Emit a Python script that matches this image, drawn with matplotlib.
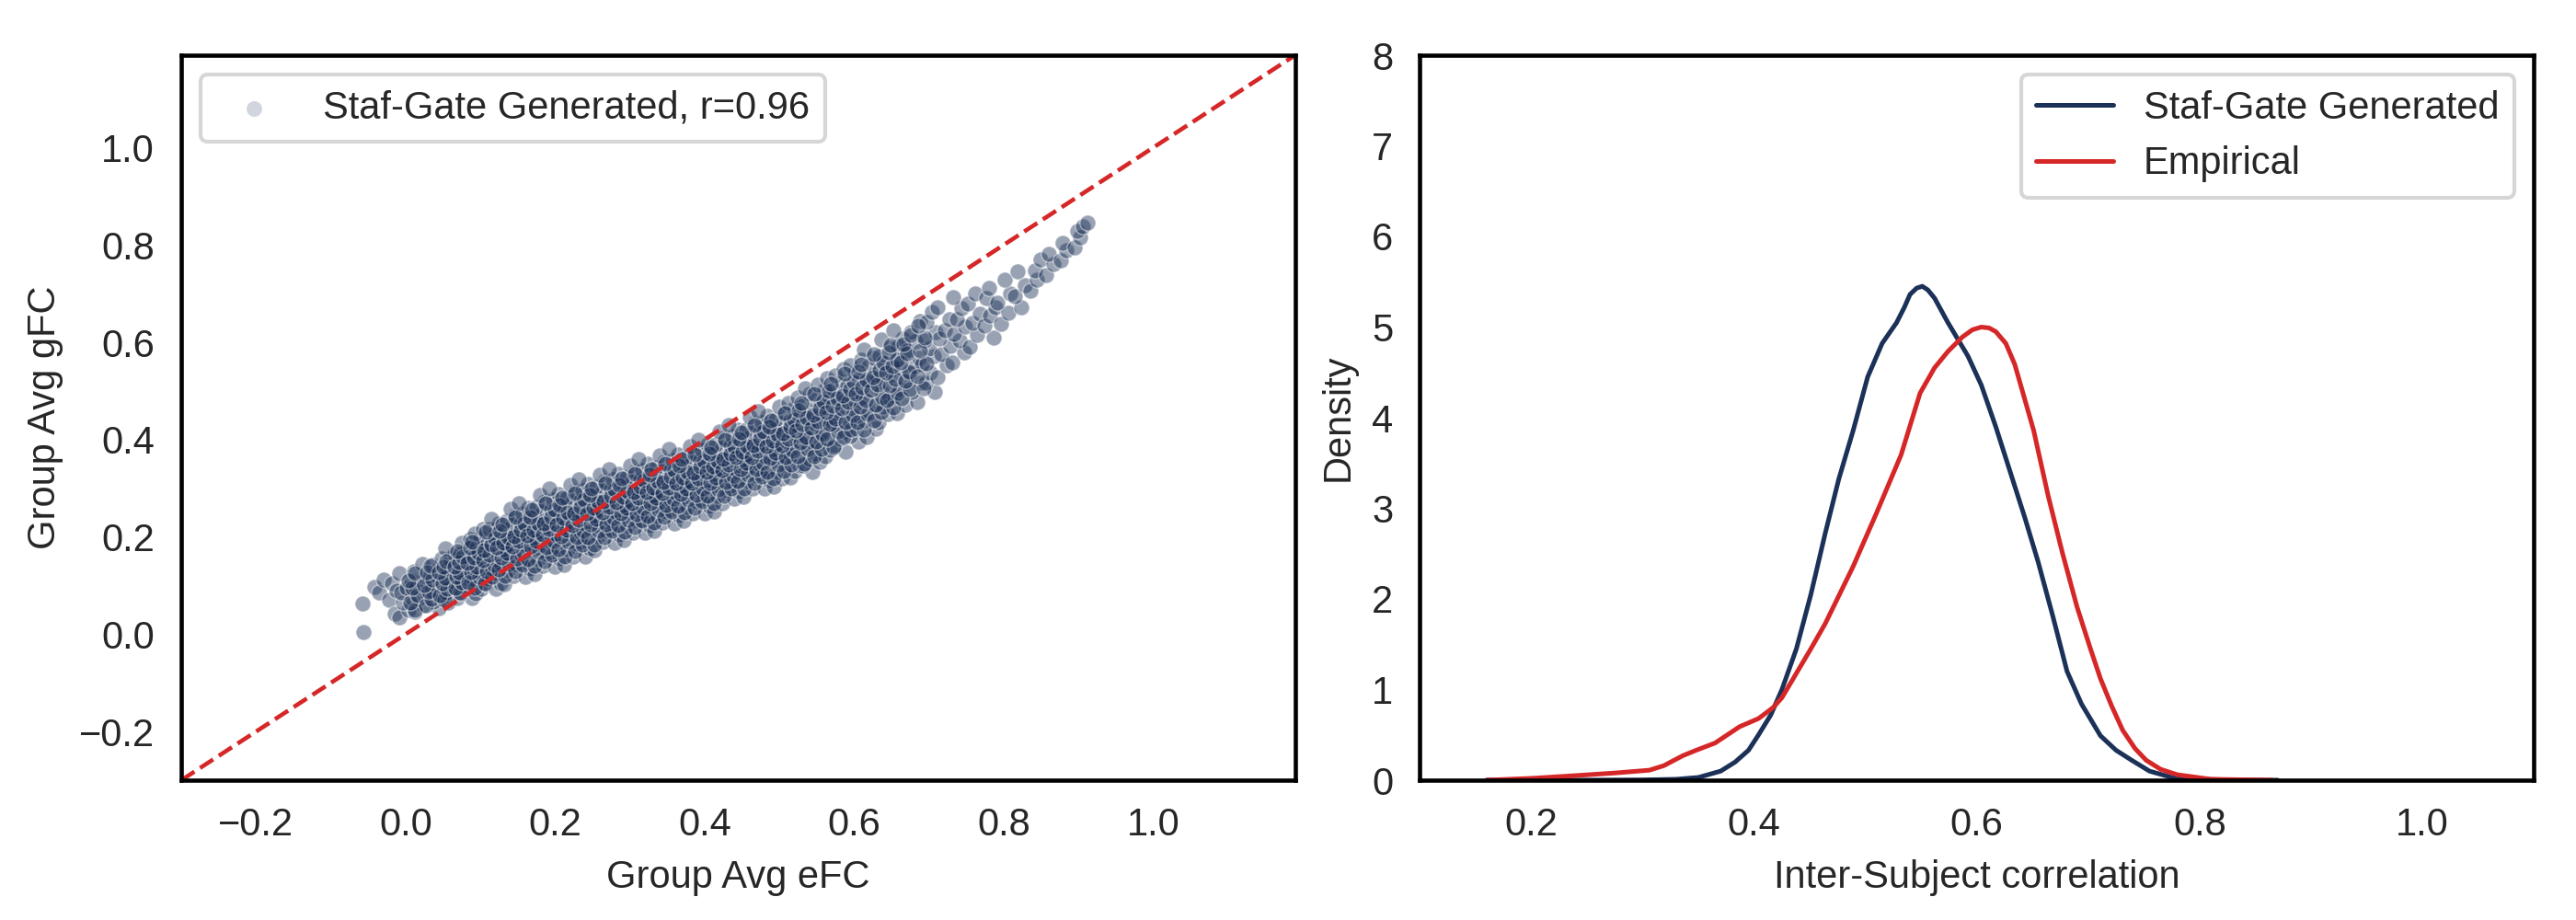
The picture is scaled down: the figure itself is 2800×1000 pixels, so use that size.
import numpy as np
import matplotlib
matplotlib.use("Agg")
import matplotlib.pyplot as plt
import seaborn as sns

# group-average eFC (x) vs generated gFC (y), read off the scatter cloud
efc = [
    -0.058, -0.056, -0.042, -0.035, -0.030, -0.022, -0.018, -0.012, -0.015,
    -0.008, 0.004, -0.003, 0.009, -0.006, 0.001, 0.007, -0.009,
    0.012, 0.024, 0.017, 0.029, 0.014, 0.021, 0.027, 0.011, 0.022,
    0.044, 0.037, 0.049, 0.034, 0.041, 0.047, 0.031, 0.042, 0.036, 0.048,
    0.057, 0.069, 0.054, 0.061, 0.067, 0.051, 0.062, 0.056, 0.068, 0.059, 0.065, 0.053,
    0.089, 0.074, 0.081, 0.087, 0.071, 0.082, 0.076, 0.088, 0.079, 0.085, 0.073, 0.083, 0.075, 0.086,
    0.094, 0.101, 0.107, 0.091, 0.102, 0.096, 0.108, 0.099, 0.105, 0.093, 0.103, 0.095, 0.106, 0.100, 0.092, 0.104,
    0.121, 0.127, 0.111, 0.122, 0.116, 0.128, 0.119, 0.125, 0.113, 0.123, 0.115, 0.126, 0.120, 0.112, 0.124, 0.114,
    0.132, 0.144, 0.137, 0.149, 0.134, 0.141, 0.147, 0.131, 0.142, 0.136, 0.148, 0.139, 0.145, 0.133, 0.143, 0.135, 0.146, 0.140,
    0.160, 0.166, 0.155, 0.163, 0.153, 0.165, 0.159, 0.168, 0.156, 0.162, 0.151, 0.167, 0.161, 0.154, 0.169, 0.157, 0.164, 0.152,
    0.172, 0.184, 0.177, 0.189, 0.174, 0.181, 0.187, 0.171, 0.182, 0.176, 0.188, 0.179, 0.185, 0.173, 0.183, 0.175, 0.186, 0.180,
    0.200, 0.206, 0.195, 0.203, 0.193, 0.205, 0.199, 0.208, 0.196, 0.202, 0.191, 0.207, 0.201, 0.194, 0.209, 0.197, 0.204, 0.192,
    0.212, 0.224, 0.217, 0.229, 0.214, 0.221, 0.227, 0.211, 0.222, 0.216, 0.228, 0.219, 0.225, 0.213, 0.223, 0.215, 0.226, 0.220,
    0.240, 0.246, 0.235, 0.243, 0.233, 0.245, 0.239, 0.248, 0.236, 0.242, 0.231, 0.247, 0.241, 0.234, 0.249, 0.237, 0.244, 0.232,
    0.252, 0.264, 0.257, 0.269, 0.254, 0.261, 0.267, 0.251, 0.262, 0.256, 0.268, 0.259, 0.265, 0.253, 0.263, 0.255, 0.266, 0.260,
    0.280, 0.286, 0.275, 0.283, 0.273, 0.285, 0.279, 0.288, 0.276, 0.282, 0.271, 0.287, 0.281, 0.274, 0.289, 0.277, 0.284, 0.272,
    0.292, 0.304, 0.297, 0.309, 0.294, 0.301, 0.307, 0.291, 0.302, 0.296, 0.308, 0.299, 0.305, 0.293, 0.303, 0.295, 0.306, 0.300,
    0.320, 0.326, 0.315, 0.323, 0.313, 0.325, 0.319, 0.328, 0.316, 0.322, 0.311, 0.327, 0.321, 0.314, 0.329, 0.317, 0.324, 0.312,
    0.332, 0.344, 0.337, 0.349, 0.334, 0.341, 0.347, 0.331, 0.342, 0.336, 0.348, 0.339, 0.345, 0.333, 0.343, 0.335, 0.346, 0.340,
    0.360, 0.366, 0.355, 0.363, 0.353, 0.365, 0.359, 0.368, 0.356, 0.362, 0.351, 0.367, 0.361, 0.354, 0.369, 0.357, 0.364, 0.352,
    0.372, 0.384, 0.377, 0.389, 0.374, 0.381, 0.387, 0.371, 0.382, 0.376, 0.388, 0.379, 0.385, 0.373, 0.383, 0.375, 0.386, 0.380,
    0.400, 0.406, 0.395, 0.403, 0.393, 0.405, 0.399, 0.408, 0.396, 0.402, 0.391, 0.407, 0.401, 0.394, 0.409, 0.397, 0.404, 0.392,
    0.412, 0.424, 0.417, 0.429, 0.414, 0.421, 0.427, 0.411, 0.422, 0.416, 0.428, 0.419, 0.425, 0.413, 0.423, 0.415, 0.426, 0.420,
    0.440, 0.446, 0.435, 0.443, 0.433, 0.445, 0.439, 0.448, 0.436, 0.442, 0.431, 0.447, 0.441, 0.434, 0.449, 0.437, 0.444, 0.432,
    0.452, 0.464, 0.457, 0.469, 0.454, 0.461, 0.467, 0.451, 0.462, 0.456, 0.468, 0.459, 0.465, 0.453, 0.463, 0.455, 0.466, 0.460,
    0.480, 0.486, 0.475, 0.483, 0.473, 0.485, 0.479, 0.488, 0.476, 0.482, 0.471, 0.487, 0.481, 0.474, 0.489, 0.477, 0.484, 0.472,
    0.492, 0.504, 0.497, 0.509, 0.494, 0.501, 0.507, 0.491, 0.502, 0.496, 0.508, 0.499, 0.505, 0.493, 0.503, 0.495, 0.506, 0.500,
    0.514, 0.521, 0.527, 0.511, 0.522, 0.516, 0.528, 0.519, 0.525, 0.513, 0.523, 0.515, 0.526, 0.520, 0.512, 0.524,
    0.544, 0.532, 0.540, 0.546, 0.535, 0.543, 0.533, 0.545, 0.539, 0.548, 0.536, 0.542, 0.531, 0.547, 0.541, 0.534,
    0.554, 0.561, 0.567, 0.551, 0.562, 0.556, 0.568, 0.559, 0.565, 0.553, 0.563, 0.555, 0.566, 0.560, 0.552, 0.564,
    0.589, 0.574, 0.581, 0.587, 0.571, 0.582, 0.576, 0.588, 0.579, 0.585, 0.573, 0.583, 0.575, 0.586,
    0.606, 0.595, 0.603, 0.593, 0.605, 0.599, 0.608, 0.596, 0.602, 0.591, 0.607, 0.601, 0.594, 0.609,
    0.617, 0.629, 0.614, 0.621, 0.627, 0.611, 0.622, 0.616, 0.628, 0.619, 0.625, 0.613,
    0.633, 0.645, 0.639, 0.648, 0.636, 0.642, 0.631, 0.647, 0.641, 0.634, 0.649, 0.637,
    0.657, 0.669, 0.654, 0.661, 0.667, 0.651, 0.662, 0.656, 0.668, 0.659, 0.665, 0.653,
    0.684, 0.677, 0.689, 0.674, 0.681, 0.687, 0.671, 0.682, 0.676, 0.688,
    0.708, 0.696, 0.702, 0.691, 0.707, 0.701, 0.694, 0.709, 0.697, 0.704,
    0.712, 0.724, 0.717, 0.729, 0.714, 0.721, 0.727, 0.711,
    0.731, 0.747, 0.741, 0.734, 0.749, 0.737, 0.744, 0.732,
    0.754, 0.765, 0.758, 0.768, 0.752, 0.762,
    0.786, 0.774, 0.782, 0.789, 0.777, 0.781,
    0.797, 0.806, 0.792, 0.809, 0.801,
    0.823, 0.815, 0.828, 0.819,
    0.836, 0.845, 0.842, 0.849,
    0.857, 0.866, 0.861,
    0.876, 0.884, 0.879,
    0.895, 0.902, 0.898, 0.906,
    0.912,
]
gfc = [
    0.063, 0.005, 0.098, 0.085, 0.112, 0.070, 0.105, 0.090, 0.042,
    0.035, 0.050, 0.065, 0.075, 0.085, 0.095, 0.110, 0.125,
    0.046, 0.060, 0.073, 0.084, 0.095, 0.106, 0.117, 0.130, 0.145,
    0.054, 0.067, 0.079, 0.090, 0.100, 0.109, 0.119, 0.130, 0.142, 0.156,
    0.064, 0.074, 0.085, 0.096, 0.106, 0.115, 0.125, 0.134, 0.144, 0.155, 0.166, 0.176,
    0.074, 0.083, 0.093, 0.104, 0.113, 0.122, 0.131, 0.139, 0.148, 0.157, 0.166, 0.177, 0.187, 0.196,
    0.083, 0.093, 0.102, 0.112, 0.122, 0.130, 0.139, 0.147, 0.154, 0.161, 0.170, 0.178, 0.188, 0.198, 0.207, 0.217,
    0.093, 0.104, 0.114, 0.125, 0.135, 0.144, 0.153, 0.162, 0.170, 0.177, 0.186, 0.195, 0.206, 0.216, 0.227, 0.237,
    0.103, 0.119, 0.132, 0.143, 0.153, 0.161, 0.169, 0.175, 0.180, 0.185, 0.191, 0.198, 0.206, 0.214, 0.223, 0.233, 0.244, 0.257,
    0.118, 0.134, 0.146, 0.157, 0.166, 0.174, 0.181, 0.187, 0.192, 0.198, 0.204, 0.211, 0.219, 0.228, 0.238, 0.248, 0.260, 0.270,
    0.123, 0.140, 0.154, 0.166, 0.176, 0.185, 0.193, 0.200, 0.205, 0.210, 0.217, 0.224, 0.232, 0.241, 0.251, 0.261, 0.273, 0.287,
    0.139, 0.156, 0.169, 0.180, 0.190, 0.198, 0.206, 0.212, 0.218, 0.224, 0.230, 0.238, 0.246, 0.255, 0.265, 0.276, 0.288, 0.299,
    0.143, 0.160, 0.174, 0.186, 0.196, 0.205, 0.213, 0.220, 0.225, 0.230, 0.237, 0.244, 0.252, 0.261, 0.271, 0.281, 0.293, 0.307,
    0.159, 0.176, 0.189, 0.200, 0.210, 0.218, 0.226, 0.232, 0.238, 0.244, 0.250, 0.258, 0.266, 0.275, 0.285, 0.296, 0.308, 0.319,
    0.173, 0.189, 0.202, 0.213, 0.223, 0.231, 0.239, 0.245, 0.250, 0.255, 0.261, 0.268, 0.276, 0.284, 0.293, 0.303, 0.314, 0.327,
    0.188, 0.204, 0.216, 0.227, 0.236, 0.244, 0.251, 0.257, 0.262, 0.268, 0.274, 0.281, 0.289, 0.298, 0.308, 0.318, 0.330, 0.340,
    0.193, 0.209, 0.222, 0.233, 0.243, 0.251, 0.259, 0.265, 0.270, 0.275, 0.281, 0.288, 0.296, 0.304, 0.313, 0.323, 0.334, 0.347,
    0.208, 0.224, 0.236, 0.247, 0.256, 0.264, 0.271, 0.277, 0.282, 0.288, 0.294, 0.301, 0.309, 0.318, 0.328, 0.338, 0.350, 0.360,
    0.213, 0.229, 0.242, 0.253, 0.263, 0.271, 0.279, 0.285, 0.290, 0.295, 0.301, 0.308, 0.316, 0.324, 0.333, 0.343, 0.354, 0.367,
    0.228, 0.244, 0.256, 0.267, 0.276, 0.284, 0.291, 0.297, 0.302, 0.308, 0.314, 0.321, 0.329, 0.338, 0.348, 0.358, 0.370, 0.380,
    0.233, 0.249, 0.262, 0.273, 0.283, 0.291, 0.299, 0.305, 0.310, 0.315, 0.321, 0.328, 0.336, 0.344, 0.353, 0.363, 0.374, 0.387,
    0.248, 0.264, 0.276, 0.287, 0.296, 0.304, 0.311, 0.317, 0.322, 0.328, 0.334, 0.341, 0.349, 0.358, 0.368, 0.378, 0.390, 0.400,
    0.253, 0.270, 0.284, 0.296, 0.306, 0.315, 0.323, 0.330, 0.335, 0.340, 0.347, 0.354, 0.362, 0.371, 0.381, 0.391, 0.403, 0.417,
    0.278, 0.294, 0.306, 0.317, 0.326, 0.334, 0.341, 0.347, 0.352, 0.358, 0.364, 0.371, 0.379, 0.388, 0.398, 0.408, 0.420, 0.430,
    0.283, 0.300, 0.314, 0.326, 0.336, 0.345, 0.353, 0.360, 0.365, 0.370, 0.377, 0.384, 0.392, 0.401, 0.411, 0.421, 0.433, 0.447,
    0.299, 0.316, 0.329, 0.340, 0.350, 0.358, 0.366, 0.372, 0.378, 0.384, 0.390, 0.398, 0.406, 0.415, 0.425, 0.436, 0.448, 0.459,
    0.303, 0.320, 0.334, 0.346, 0.356, 0.365, 0.373, 0.380, 0.385, 0.390, 0.397, 0.404, 0.412, 0.421, 0.431, 0.441, 0.453, 0.467,
    0.323, 0.335, 0.347, 0.359, 0.371, 0.381, 0.391, 0.402, 0.410, 0.419, 0.429, 0.439, 0.451, 0.463, 0.475, 0.487,
    0.334, 0.346, 0.359, 0.371, 0.384, 0.395, 0.406, 0.416, 0.425, 0.434, 0.445, 0.456, 0.469, 0.481, 0.494, 0.506,
    0.354, 0.366, 0.379, 0.391, 0.404, 0.415, 0.426, 0.436, 0.445, 0.454, 0.465, 0.476, 0.489, 0.501, 0.514, 0.526,
    0.375, 0.388, 0.402, 0.417, 0.429, 0.442, 0.455, 0.465, 0.478, 0.491, 0.503, 0.518, 0.532, 0.545,
    0.395, 0.408, 0.422, 0.437, 0.449, 0.462, 0.475, 0.485, 0.498, 0.511, 0.523, 0.538, 0.552, 0.565,
    0.406, 0.423, 0.440, 0.457, 0.472, 0.487, 0.503, 0.518, 0.533, 0.550, 0.567, 0.584,
    0.435, 0.452, 0.468, 0.484, 0.498, 0.513, 0.527, 0.542, 0.556, 0.572, 0.588, 0.605,
    0.455, 0.472, 0.488, 0.504, 0.518, 0.533, 0.547, 0.562, 0.576, 0.592, 0.608, 0.625,
    0.477, 0.497, 0.517, 0.535, 0.551, 0.567, 0.583, 0.601, 0.621, 0.643,
    0.497, 0.517, 0.537, 0.555, 0.571, 0.587, 0.603, 0.621, 0.641, 0.663,
    0.528, 0.552, 0.576, 0.592, 0.608, 0.624, 0.648, 0.672,
    0.558, 0.580, 0.603, 0.618, 0.633, 0.648, 0.670, 0.693,
    0.590, 0.616, 0.639, 0.658, 0.679, 0.701,
    0.610, 0.634, 0.654, 0.672, 0.691, 0.712,
    0.638, 0.660, 0.681, 0.700, 0.728,
    0.672, 0.695, 0.718, 0.745,
    0.705, 0.728, 0.748, 0.770,
    0.738, 0.760, 0.782,
    0.768, 0.790, 0.805,
    0.795, 0.815, 0.828, 0.838,
    0.845,
]

# extra pairs in the dense core of the cloud
efc_core = [
    0.013, 0.006, 0.016, 0.009, 0.004, 0.012,
    0.027, 0.034, 0.031, 0.025, 0.036, 0.029, 0.033,
    0.052, 0.046, 0.055, 0.049, 0.053, 0.045, 0.051, 0.054,
    0.073, 0.066, 0.075, 0.068, 0.072, 0.065, 0.071, 0.076, 0.069,
    0.093, 0.084, 0.098, 0.088, 0.095, 0.082, 0.091, 0.097, 0.086, 0.089,
    0.106, 0.116, 0.109, 0.118, 0.103, 0.112, 0.105, 0.114, 0.119, 0.107,
    0.133, 0.124, 0.138, 0.128, 0.135, 0.122, 0.131, 0.137, 0.126, 0.129,
    0.146, 0.156, 0.149, 0.158, 0.143, 0.152, 0.145, 0.154, 0.159, 0.147,
    0.173, 0.164, 0.178, 0.168, 0.175, 0.162, 0.171, 0.177, 0.166, 0.169,
    0.186, 0.196, 0.189, 0.198, 0.183, 0.192, 0.185, 0.194, 0.199, 0.187,
    0.213, 0.204, 0.218, 0.208, 0.215, 0.202, 0.211, 0.217, 0.206, 0.209,
    0.226, 0.236, 0.229, 0.238, 0.223, 0.232, 0.225, 0.234, 0.239, 0.227,
    0.253, 0.244, 0.258, 0.248, 0.255, 0.242, 0.251, 0.257, 0.246, 0.249,
    0.266, 0.276, 0.269, 0.278, 0.263, 0.272, 0.265, 0.274, 0.279, 0.267,
    0.293, 0.284, 0.298, 0.288, 0.295, 0.282, 0.291, 0.297, 0.286, 0.289,
    0.306, 0.316, 0.309, 0.318, 0.303, 0.312, 0.305, 0.314, 0.319, 0.307,
    0.333, 0.324, 0.338, 0.328, 0.335, 0.322, 0.331, 0.337, 0.326, 0.329,
    0.346, 0.356, 0.349, 0.358, 0.343, 0.352, 0.345, 0.354, 0.359, 0.347,
    0.373, 0.364, 0.378, 0.368, 0.375, 0.362, 0.371, 0.377, 0.366, 0.369,
    0.386, 0.396, 0.389, 0.398, 0.383, 0.392, 0.385, 0.394, 0.399, 0.387,
    0.413, 0.404, 0.418, 0.408, 0.415, 0.402, 0.411, 0.417, 0.406, 0.409,
    0.426, 0.436, 0.429, 0.438, 0.423, 0.432, 0.425, 0.434, 0.439, 0.427,
    0.453, 0.444, 0.458, 0.448, 0.455, 0.442, 0.451, 0.457, 0.446, 0.449,
    0.466, 0.476, 0.469, 0.478, 0.463, 0.472, 0.465, 0.474, 0.479, 0.467,
    0.493, 0.484, 0.498, 0.488, 0.495, 0.482, 0.491, 0.497, 0.486, 0.489,
    0.506, 0.516, 0.509, 0.518, 0.503, 0.512, 0.505, 0.514, 0.519, 0.507,
    0.533, 0.524, 0.538, 0.528, 0.535, 0.522, 0.531, 0.537, 0.526, 0.529,
    0.546, 0.556, 0.549, 0.558, 0.543, 0.552, 0.545, 0.554, 0.559, 0.547,
    0.573, 0.564, 0.578, 0.568, 0.575, 0.562, 0.571, 0.577, 0.566, 0.569,
    0.586, 0.596, 0.589, 0.598, 0.583, 0.592, 0.585, 0.594, 0.599, 0.587,
    0.613, 0.604, 0.618, 0.608, 0.615, 0.602, 0.611, 0.617, 0.606, 0.609,
    0.626, 0.636, 0.629, 0.638, 0.623, 0.632, 0.625, 0.634, 0.639, 0.627,
    0.653, 0.644, 0.658, 0.648, 0.655, 0.642, 0.651, 0.657, 0.646, 0.649,
    0.664, 0.675, 0.668, 0.673, 0.662, 0.671, 0.666, 0.676,
    0.693, 0.685, 0.697, 0.688, 0.694, 0.686,
]
gfc_core = [
    0.050, 0.065, 0.080, 0.095, 0.110, 0.125,
    0.060, 0.073, 0.087, 0.100, 0.113, 0.127, 0.140,
    0.070, 0.081, 0.093, 0.104, 0.116, 0.127, 0.139, 0.150,
    0.085, 0.096, 0.106, 0.117, 0.128, 0.138, 0.149, 0.159, 0.170,
    0.095, 0.106, 0.118, 0.128, 0.138, 0.147, 0.157, 0.167, 0.179, 0.190,
    0.105, 0.118, 0.130, 0.142, 0.152, 0.163, 0.173, 0.185, 0.197, 0.210,
    0.120, 0.133, 0.145, 0.157, 0.167, 0.178, 0.188, 0.200, 0.212, 0.225,
    0.130, 0.143, 0.156, 0.169, 0.180, 0.191, 0.202, 0.214, 0.227, 0.240,
    0.140, 0.154, 0.168, 0.180, 0.192, 0.203, 0.215, 0.227, 0.241, 0.255,
    0.150, 0.164, 0.179, 0.192, 0.204, 0.216, 0.228, 0.241, 0.256, 0.270,
    0.160, 0.174, 0.189, 0.202, 0.214, 0.226, 0.238, 0.251, 0.266, 0.280,
    0.170, 0.184, 0.199, 0.212, 0.224, 0.236, 0.248, 0.261, 0.276, 0.290,
    0.185, 0.199, 0.213, 0.225, 0.237, 0.248, 0.260, 0.272, 0.286, 0.300,
    0.200, 0.213, 0.226, 0.239, 0.250, 0.261, 0.272, 0.284, 0.297, 0.310,
    0.210, 0.223, 0.236, 0.249, 0.260, 0.271, 0.282, 0.294, 0.307, 0.320,
    0.220, 0.233, 0.246, 0.259, 0.270, 0.281, 0.292, 0.304, 0.317, 0.330,
    0.230, 0.243, 0.256, 0.269, 0.280, 0.291, 0.302, 0.314, 0.327, 0.340,
    0.240, 0.253, 0.266, 0.279, 0.290, 0.301, 0.312, 0.324, 0.337, 0.350,
    0.250, 0.263, 0.276, 0.289, 0.300, 0.311, 0.322, 0.334, 0.347, 0.360,
    0.260, 0.273, 0.286, 0.299, 0.310, 0.321, 0.332, 0.344, 0.357, 0.370,
    0.270, 0.284, 0.298, 0.310, 0.322, 0.333, 0.345, 0.357, 0.371, 0.385,
    0.285, 0.299, 0.313, 0.325, 0.337, 0.348, 0.360, 0.372, 0.386, 0.400,
    0.300, 0.314, 0.328, 0.340, 0.352, 0.363, 0.375, 0.387, 0.401, 0.415,
    0.310, 0.324, 0.339, 0.352, 0.364, 0.376, 0.388, 0.401, 0.416, 0.430,
    0.320, 0.334, 0.349, 0.362, 0.374, 0.386, 0.398, 0.411, 0.426, 0.440,
    0.335, 0.349, 0.364, 0.377, 0.389, 0.401, 0.413, 0.426, 0.441, 0.455,
    0.350, 0.365, 0.380, 0.394, 0.406, 0.419, 0.431, 0.445, 0.460, 0.475,
    0.365, 0.381, 0.396, 0.411, 0.424, 0.437, 0.450, 0.464, 0.479, 0.495,
    0.385, 0.401, 0.416, 0.431, 0.444, 0.457, 0.470, 0.484, 0.499, 0.515,
    0.405, 0.421, 0.436, 0.451, 0.464, 0.477, 0.490, 0.504, 0.519, 0.535,
    0.420, 0.436, 0.452, 0.467, 0.481, 0.494, 0.508, 0.523, 0.539, 0.555,
    0.440, 0.456, 0.472, 0.487, 0.501, 0.514, 0.528, 0.543, 0.559, 0.575,
    0.465, 0.481, 0.496, 0.511, 0.524, 0.537, 0.550, 0.564, 0.579, 0.595,
    0.485, 0.503, 0.521, 0.540, 0.559, 0.577, 0.596, 0.615,
    0.505, 0.531, 0.557, 0.583, 0.609, 0.635,
]

# KDE of inter-subject correlation
gen_x = [0.16, 0.20, 0.25, 0.30, 0.33, 0.35, 0.37, 0.383, 0.395, 0.404, 0.415, 0.425,
         0.438, 0.451, 0.464, 0.476, 0.489, 0.502, 0.515, 0.528, 0.535, 0.540, 0.546,
         0.551, 0.556, 0.562, 0.574, 0.592, 0.604, 0.617, 0.630, 0.643, 0.655, 0.668,
         0.681, 0.694, 0.711, 0.725, 0.739, 0.755, 0.775, 0.80, 0.83, 0.87]
gen_y = [0.0, 0.0, 0.0, 0.003, 0.01, 0.03, 0.1, 0.2, 0.33, 0.5, 0.72, 1.0,
         1.45, 2.05, 2.73, 3.32, 3.86, 4.45, 4.82, 5.05, 5.22, 5.36, 5.43,
         5.45, 5.41, 5.32, 5.05, 4.68, 4.36, 3.9, 3.4, 2.9, 2.41, 1.82,
         1.2, 0.84, 0.49, 0.33, 0.22, 0.1, 0.03, 0.01, 0.002, 0.0]
emp_x = [0.16, 0.20, 0.233, 0.276, 0.306, 0.319, 0.336, 0.348, 0.365, 0.387, 0.404,
         0.417, 0.425, 0.438, 0.451, 0.464, 0.489, 0.510, 0.532, 0.549, 0.562, 0.574,
         0.587, 0.596, 0.604, 0.611, 0.617, 0.626, 0.634, 0.651, 0.664, 0.677, 0.690,
         0.702, 0.711, 0.721, 0.731, 0.742, 0.752, 0.765, 0.780, 0.81, 0.865]
emp_y = [0.0, 0.02, 0.045, 0.08, 0.11, 0.16, 0.27, 0.33, 0.41, 0.59, 0.68,
         0.8, 0.91, 1.18, 1.45, 1.73, 2.36, 2.95, 3.59, 4.27, 4.55, 4.73,
         4.89, 4.97, 5.0, 4.99, 4.95, 4.82, 4.59, 3.86, 3.14, 2.5, 1.91,
         1.45, 1.12, 0.82, 0.55, 0.35, 0.22, 0.12, 0.06, 0.01, 0.0]

navy = "#1c3157"
red = "#d62728"

sns.set_style("white")
plt.rcParams["font.family"] = ["Liberation Sans", "DejaVu Sans"]
plt.rcParams["font.size"] = 10

fig, (ax1, ax2) = plt.subplots(1, 2, figsize=(28 / 3, 10 / 3), dpi=300)
fig.subplots_adjust(left=0.0704, right=0.9836, bottom=0.152, top=0.94, wspace=0.112)

ax1.scatter(efc + efc_core, gfc + gfc_core, s=17, color=navy, alpha=0.45,
            edgecolor="white", linewidth=0.35, label="Staf-Gate Generated, r=0.96")
ax1.axline((0, 0), slope=1, color=red, linestyle="--", linewidth=1.1)
ax1.set_xlim(-0.3, 1.19)
ax1.set_ylim(-0.3, 1.19)
ax1.set_xticks([-0.2, 0.0, 0.2, 0.4, 0.6, 0.8, 1.0])
ax1.set_yticks([-0.2, 0.0, 0.2, 0.4, 0.6, 0.8, 1.0])
ax1.set_xlabel("Group Avg eFC")
ax1.set_ylabel("Group Avg gFC")
leg = ax1.legend(loc="upper left")
leg.legend_handles[0].set_alpha(0.2)

ax2.plot(gen_x, gen_y, color=navy, linewidth=1.2, label="Staf-Gate Generated")
ax2.plot(emp_x, emp_y, color=red, linewidth=1.2, label="Empirical")
ax2.set_xlim(0.1, 1.1)
ax2.set_ylim(0, 8)
ax2.set_xticks([0.2, 0.4, 0.6, 0.8, 1.0])
ax2.set_yticks(range(0, 9))
ax2.set_xlabel("Inter-Subject correlation")
ax2.set_ylabel("Density")
ax2.legend(loc="upper right")

for ax in (ax1, ax2):
    for sp in ax.spines.values():
        sp.set_color("black")
        sp.set_linewidth(1.1)

fig.savefig("out.png", dpi=300)
